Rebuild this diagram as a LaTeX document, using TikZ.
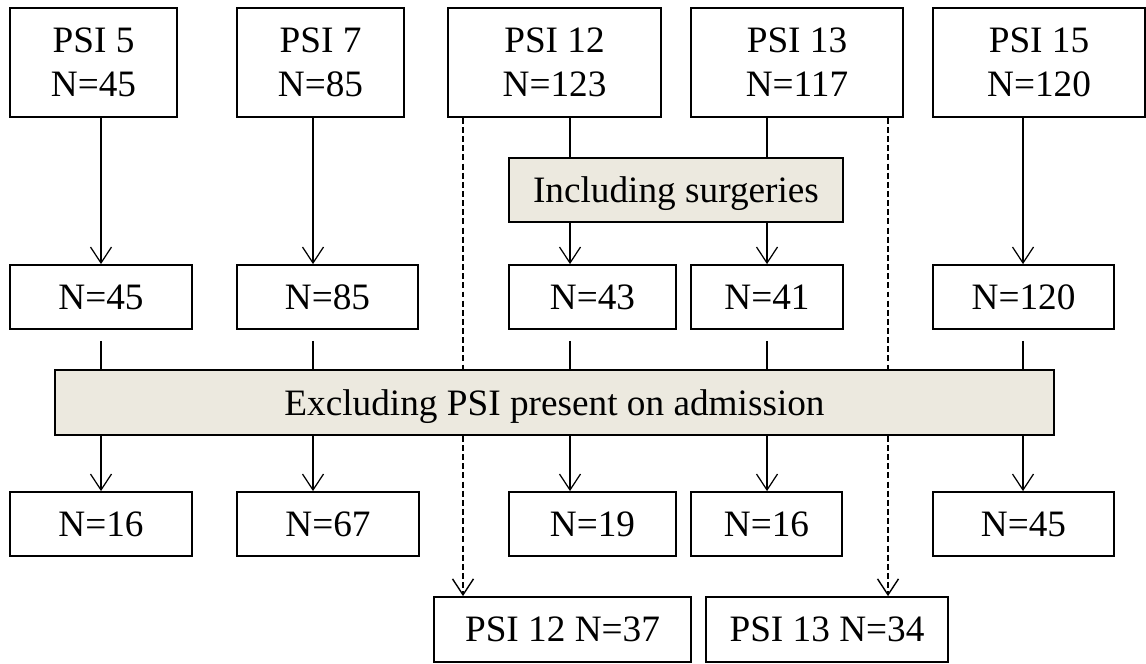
\documentclass[tikz,border=0pt]{standalone}
\usepackage{fontspec}
\setmainfont{Liberation Serif}
\usetikzlibrary{arrows.meta}
\definecolor{boxgrey}{RGB}{236,233,223}

\begin{document}
\begin{tikzpicture}[x=0.2mm,y=-0.2mm,
  psibox/.style={draw,line width=1pt,fill=white,align=center,inner sep=0pt,font=\fontsize{21.2}{25}\selectfont},
  greybox/.style={psibox,fill=boxgrey,text depth=0pt},
  plainline/.style={line width=0.7pt},
  link/.style={plainline,-{Straight Barb[length=3.2mm,width=4.2mm,line width=0.7pt]}},
  dashline/.style={line width=1.1pt,dash pattern=on 3.4pt off 1.8pt},
  dashlink/.style={dashline,-{Straight Barb[length=3.2mm,width=4.2mm,line width=0.8pt]}}]
\useasboundingbox (0,0) rectangle (1146,663);
\node [psibox,minimum width=33.4mm,minimum height=21.8mm] (p5) at (93.5,62.5) {PSI 5\\N=45};
\node [psibox,minimum width=33.4mm,minimum height=21.8mm] (p7) at (320.5,62.5) {PSI 7\\N=85};
\node [psibox,minimum width=42.6mm,minimum height=21.8mm] (p12) at (554.5,62.5) {PSI 12\\N=123};
\node [psibox,minimum width=42.4mm,minimum height=21.8mm] (p13) at (797,62.5) {PSI 13\\N=117};
\node [psibox,minimum width=42.4mm,minimum height=21.8mm] (p15) at (1039,62.5) {PSI 15\\N=120};

\node [greybox,minimum width=66.8mm,minimum height=12.8mm] (inc) at (676,190) {Including surgeries};

\node [psibox,minimum width=36.4mm,minimum height=12.8mm] (a5) at (101,297) {N=45};
\node [psibox,minimum width=36.2mm,minimum height=12.8mm] (a7) at (327.5,297) {N=85};
\node [psibox,minimum width=33.4mm,minimum height=12.8mm] (a12) at (592.5,297) {N=43};
\node [psibox,minimum width=30.4mm,minimum height=12.8mm] (a13) at (767,297) {N=41};
\node [psibox,minimum width=36.2mm,minimum height=12.8mm] (a15) at (1023.5,297) {N=120};

\node [greybox,minimum width=199.8mm,minimum height=13mm] (excl) at (554.5,402.5) {Excluding PSI present on admission};

\node [psibox,minimum width=36.4mm,minimum height=12.8mm] (b5) at (101,524) {N=16};
\node [psibox,minimum width=36.4mm,minimum height=12.8mm] (b7) at (328,524) {N=67};
\node [psibox,minimum width=33.4mm,minimum height=12.8mm] (b12) at (592.5,524) {N=19};
\node [psibox,minimum width=30.2mm,minimum height=12.8mm] (b13) at (766.5,524) {N=16};
\node [psibox,minimum width=36.2mm,minimum height=12.8mm] (b15) at (1023.5,524) {N=45};

\node [psibox,minimum width=51.4mm,minimum height=13mm] (s12) at (562.5,629.5) {PSI 12 N=37};
\node [psibox,minimum width=48.4mm,minimum height=13mm] (s13) at (827,629.5) {PSI 13 N=34};

\coordinate (c5) at (101,0);
\coordinate (c7) at (313,0);
\coordinate (c12) at (570,0);
\coordinate (c13) at (767,0);
\coordinate (c15) at (1023,0);
\coordinate (d12) at (463,0);
\coordinate (d13) at (888,0);

\draw [link] (p5.south -| c5) -- (a5.north -| c5);
\draw [link] (p7.south -| c7) -- (a7.north -| c7);
\draw [plainline] (p12.south -| c12) -- (inc.north -| c12);
\draw [link] (inc.south -| c12) -- (a12.north -| c12);
\draw [plainline] (p13.south -| c13) -- (inc.north -| c13);
\draw [link] (inc.south -| c13) -- (a13.north -| c13);
\draw [link] (p15.south -| c15) -- (a15.north -| c15);

\draw [plainline,shorten <=2.2mm] (a5.south -| c5) -- (excl.north -| c5);
\draw [plainline,shorten <=2.2mm] (a7.south -| c7) -- (excl.north -| c7);
\draw [plainline,shorten <=2.2mm] (a12.south -| c12) -- (excl.north -| c12);
\draw [plainline,shorten <=2.2mm] (a13.south -| c13) -- (excl.north -| c13);
\draw [plainline,shorten <=2.2mm] (a15.south -| c15) -- (excl.north -| c15);

\draw [link] (excl.south -| c5) -- (b5.north -| c5);
\draw [link] (excl.south -| c7) -- (b7.north -| c7);
\draw [link] (excl.south -| c12) -- (b12.north -| c12);
\draw [link] (excl.south -| c13) -- (b13.north -| c13);
\draw [link] (excl.south -| c15) -- (b15.north -| c15);

\draw [dashline] (p12.south -| d12) -- (excl.north -| d12);
\draw [dashlink] (excl.south -| d12) -- (s12.north -| d12);
\draw [dashline] (p13.south -| d13) -- (excl.north -| d13);
\draw [dashlink] (excl.south -| d13) -- (s13.north -| d13);
\end{tikzpicture}
\end{document}
